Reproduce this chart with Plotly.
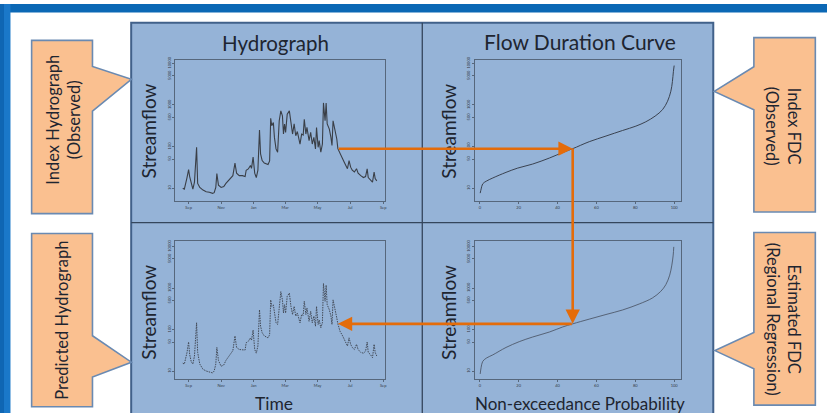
import math
import pandas as pd
import plotly.graph_objects as go

W, H = 829, 413

# ---------------- data ----------------
flow_dates = [
    "2009-08-21", "2009-08-24", "2009-08-29", "2009-09-01", "2009-09-03", "2009-09-06",
    "2009-09-09", "2009-09-12", "2009-09-16", "2009-09-18", "2009-09-22", "2009-09-28",
    "2009-10-04", "2009-10-10", "2009-10-16", "2009-10-19", "2009-10-22", "2009-10-24", "2009-10-27",
    "2009-11-01", "2009-11-06", "2009-11-10", "2009-11-16", "2009-11-23", "2009-11-27", "2009-11-30",
    "2009-12-05", "2009-12-11", "2009-12-16", "2009-12-18", "2009-12-22", "2009-12-26", "2009-12-28",
    "2009-12-31",
    "2010-01-03", "2010-01-06", "2010-01-09", "2010-01-12", "2010-01-14", "2010-01-17", "2010-01-21",
    "2010-01-28", "2010-01-31",
    "2010-02-02", "2010-02-04", "2010-02-07", "2010-02-09", "2010-02-12", "2010-02-15", "2010-02-18",
    "2010-02-21", "2010-02-24", "2010-02-26", "2010-02-28",
    "2010-03-02", "2010-03-05", "2010-03-09", "2010-03-12", "2010-03-15", "2010-03-18", "2010-03-21",
    "2010-03-24", "2010-03-27", "2010-03-29",
    "2010-04-01", "2010-04-04", "2010-04-06", "2010-04-09", "2010-04-11", "2010-04-15", "2010-04-18",
    "2010-04-21", "2010-04-24", "2010-04-27", "2010-04-29",
    "2010-05-02", "2010-05-04", "2010-05-07", "2010-05-10", "2010-05-12", "2010-05-15", "2010-05-17",
    "2010-05-19", "2010-05-23", "2010-05-26", "2010-05-28", "2010-05-30",
    "2010-06-02", "2010-06-05", "2010-06-06", "2010-06-08", "2010-06-12", "2010-06-17", "2010-06-20",
    "2010-06-23", "2010-06-26", "2010-06-29",
    "2010-07-02", "2010-07-05", "2010-07-09", "2010-07-13", "2010-07-16", "2010-07-21", "2010-07-26",
    "2010-07-30",
    "2010-08-02", "2010-08-04", "2010-08-08", "2010-08-12", "2010-08-15", "2010-08-17", "2010-08-20",
]

observed_flow = [
    10, 9.5, 18, 28, 19, 12.5, 9.5, 14, 96, 13, 10.4, 9,
    8.2, 8, 7.5, 7.8, 10.4, 22.4, 11.8,
    10.4, 11, 13, 16, 20, 40, 23,
    20, 20, 19, 27, 29, 35, 30, 56,
    23, 18, 27, 250, 67, 46, 40, 37, 45,
    480, 316, 380, 166, 88, 73, 417, 720, 550, 200, 347,
    219, 600, 720, 350, 200, 350, 182, 230, 166, 115,
    200, 190, 455, 200, 288, 139, 219, 115, 166, 88, 288,
    96, 139, 73, 115, 1120, 417, 1120, 350, 263, 166, 106, 417,
    288, 200, 152, 89, 67, 51, 42, 35, 29.4, 46,
    32, 27, 24.5, 29.4, 23, 20, 18, 19,
    29, 18, 16, 14, 24.5, 17, 15,
]

predicted_flow = [
    15.5, 14.7, 28, 50, 25, 16.7, 14.7, 23, 145, 28, 14.7, 11,
    10, 9.3, 9, 10, 14.7, 37, 18,
    13, 14, 18, 23, 31, 70, 37,
    33, 32, 32, 48, 52, 63, 55, 97,
    33, 27, 40, 300, 120, 84, 70, 63, 75,
    517, 360, 390, 230, 145, 133, 435, 815, 517, 250, 395,
    250, 630, 755, 360, 230, 360, 210, 250, 175, 145,
    230, 220, 480, 230, 330, 158, 275, 145, 210, 120, 360,
    133, 170, 110, 145, 1290, 480, 1170, 395, 300, 210, 133, 517,
    360, 250, 190, 137, 91, 70, 58, 48, 40, 63,
    44, 37, 33, 44, 33, 28, 27, 30,
    50, 28, 25, 21, 44, 28, 23,
]

fdc_obs_prob = [0.2, 0.7, 1.5, 3.3, 6.7, 13.5, 19.5, 27.2, 35.8, 42.6, 47.8, 56.3,
                64.9, 73.4, 80.3, 85.4, 90.2, 94.0, 96.6, 98.3, 99.1, 99.6, 100]
fdc_obs_flow = [7.6, 9.6, 12.7, 14.7, 17.6, 24, 30.4, 38, 53, 72, 89, 131,
                179, 243, 310, 394, 540, 770, 1230, 2140, 3660, 6300, 8850]

fdc_est_prob = [0.2, 0.7, 1.5, 3.3, 6.7, 13.5, 20.3, 27.2, 35.8, 42.6, 47.8, 56.3,
                64.9, 73.4, 82.0, 88.8, 93.1, 95.7, 97.7, 98.8, 99.5, 99.8]
fdc_est_flow = [8.5, 12.3, 17, 20.4, 24.5, 37, 51, 66, 87, 115, 137, 178,
                230, 295, 412, 575, 830, 1200, 2040, 3560, 6200, 9800]

# the day that is carried through both flow duration curves
link_date = "2010-06-08"
link_prob = 47.8

flow_ticks = [10, 50, 100, 500, 1000, 5000, 10000]
flow_tick_text = [str(v) for v in flow_ticks]
month_ticks = ["2009-09-01", "2009-11-01", "2010-01-01", "2010-03-01",
               "2010-05-01", "2010-07-01", "2010-09-01"]
month_text = ["Sep", "Nov", "Jan", "Mar", "May", "Jul", "Sep"]
prob_ticks = [0, 20, 40, 60, 80, 100]

# ---------------- styling ----------------
FONT = "Lato"
PANEL = "#95B3D7"
PANEL_EDGE = "#41618A"
DIVIDER = "#34465C"
CALLOUT = "#FAC090"
CALLOUT_EDGE = "#6A8AB2"
ORANGE = "#E46C0A"
BOX = "#56677C"

def px(x):
    return x / W

def py(y):
    return 1 - y / H

dom_x_hyd = [px(175.7), px(385.7)]
dom_x_fdc = [px(475.7), px(683.0)]
dom_y_top = [py(199), py(57)]
dom_y_bot = [py(379), py(239)]

rng_x_hyd = ["2009-08-07", "2010-09-04"]
rng_x_fdc = [-2.7, 103.7]
rng_y_top = [0.69, 4.07]
rng_y_bot = [0.80, 4.14]

fig = go.Figure()

fig.add_trace(go.Scatter(x=flow_dates, y=observed_flow, mode="lines",
                         line=dict(color="#3A3F47", width=1.1), xaxis="x", yaxis="y",
                         hoverinfo="skip"))
fig.add_trace(go.Scatter(x=fdc_obs_prob, y=fdc_obs_flow, mode="lines",
                         line=dict(color="#3A4250", width=1.0, shape="spline"),
                         xaxis="x2", yaxis="y2", hoverinfo="skip"))
fig.add_trace(go.Scatter(x=flow_dates, y=predicted_flow, mode="lines",
                         line=dict(color="#434B58", width=1.0, dash="1.5px,1px"),
                         xaxis="x3", yaxis="y3", hoverinfo="skip"))
fig.add_trace(go.Scatter(x=fdc_est_prob, y=fdc_est_flow, mode="lines",
                         line=dict(color="#4A5464", width=0.85, shape="spline"),
                         xaxis="x4", yaxis="y4", hoverinfo="skip"))

tick_font = dict(family=FONT, size=4, color="#333B47")

def xaxis_common(dom, rng, anchor, vals, text, is_date):
    d = dict(domain=dom, range=rng, anchor=anchor, showgrid=False, zeroline=False,
             showline=True, mirror=True, linecolor=BOX, linewidth=1,
             ticks="outside", ticklen=2, tickcolor=BOX, tickwidth=0.6,
             tickvals=vals, ticktext=text, tickfont=tick_font)
    if is_date:
        d["type"] = "date"
    return d

def yaxis_common(dom, rng, anchor):
    return dict(domain=dom, range=rng, anchor=anchor, type="log", showgrid=False,
                zeroline=False, showline=True, mirror=True, linecolor=BOX, linewidth=1,
                ticks="outside", ticklen=2, tickcolor=BOX, tickwidth=0.6,
                tickvals=flow_ticks, ticktext=flow_tick_text, tickangle=-90,
                tickfont=tick_font)

# ---------------- helpers to place connectors in figure coordinates ----------------
def frac(v, lo, hi):
    return (v - lo) / (hi - lo)

def on_domain(dom, f):
    return dom[0] + f * (dom[1] - dom[0])

def date_to_paper(d):
    t = pd.Timestamp(d).value
    lo, hi = (pd.Timestamp(r).value for r in rng_x_hyd)
    return on_domain(dom_x_hyd, frac(t, lo, hi))

def prob_to_paper(p):
    return on_domain(dom_x_fdc, frac(p, *rng_x_fdc))

def flow_to_paper(q, dom, rng):
    return on_domain(dom, frac(math.log10(q), *rng))

link_idx = flow_dates.index(link_date)
q_obs = observed_flow[link_idx]
q_pred = predicted_flow[link_idx]

x_hyd = date_to_paper(link_date)
x_fdc = prob_to_paper(link_prob)
y_obs = flow_to_paper(q_obs, dom_y_top, rng_y_top)
y_pred = flow_to_paper(q_pred, dom_y_bot, rng_y_bot)

shapes = []
# slide background and decorative frame
shapes.append(dict(type="rect", xref="paper", yref="paper", x0=0, x1=1, y0=py(0), y1=py(8.5),
                   fillcolor="#0B68B5", line=dict(width=0), layer="below"))
shapes.append(dict(type="rect", xref="paper", yref="paper", x0=0, x1=px(10.5), y0=0, y1=1,
                   fillcolor="#1A78C9", line=dict(width=0), layer="below"))
shapes.append(dict(type="rect", xref="paper", yref="paper", x0=0, x1=px(4), y0=0, y1=1,
                   fillcolor="#0F66B3", line=dict(width=0), layer="below"))

# the four-panel board
shapes.append(dict(type="rect", xref="paper", yref="paper", x0=px(131.5), x1=px(715), y0=py(416),
                   y1=py(19), fillcolor=PANEL, line=dict(color=PANEL_EDGE, width=2), layer="below"))
shapes.append(dict(type="line", xref="paper", yref="paper", x0=px(423.3), x1=px(423.3), y0=py(19),
                   y1=py(416), line=dict(color=DIVIDER, width=1.3), layer="below"))
shapes.append(dict(type="line", xref="paper", yref="paper", x0=px(131.5), x1=px(715), y0=py(220.7),
                   y1=py(220.7), line=dict(color=DIVIDER, width=1.3), layer="below"))

def callout(points):
    path = "M " + " L ".join(f"{px(x):.5f},{py(y):.5f}" for x, y in points) + " Z"
    return dict(type="path", xref="paper", yref="paper", path=path, fillcolor=CALLOUT,
                line=dict(color=CALLOUT_EDGE, width=1.6), layer="below")

shapes.append(callout([(31.7, 36.7), (92.7, 36.7), (92.7, 63), (131.7, 76), (92.7, 108.3),
                       (92.7, 211.7), (31.7, 211.7)]))
shapes.append(callout([(31.7, 231.7), (92.7, 231.7), (92.7, 335), (131.7, 361.7), (92.7, 376.7),
                       (92.7, 406.7), (31.7, 406.7)]))
shapes.append(callout([(755.7, 34), (817.3, 34), (817.3, 210), (755.7, 210), (755.7, 106.7),
                       (716, 88.3), (755.7, 63.3)]))
shapes.append(callout([(755.7, 230.7), (817.3, 230.7), (817.3, 405), (755.7, 405), (755.7, 368.3),
                       (716.7, 350), (755.7, 331.7)]))

annotations = []

def label(x, y, text, size, angle=0, color="#1E2530"):
    annotations.append(dict(xref="paper", yref="paper", x=px(x), y=py(y), text=text,
                            showarrow=False, textangle=angle, xanchor="center", yanchor="middle",
                            font=dict(family=FONT, size=size, color=color)))

label(276, 39, "Hydrograph", 20.5)
label(581, 38, "Flow Duration Curve", 21)
label(275, 403, "Time", 17.5)
label(581, 403, "Non-exceedance Probability", 17)
for (x, y) in [(149, 128), (450, 128), (149, 311), (450, 311)]:
    label(x, y, "Streamflow", 19, angle=-90)

label(64, 117, "Index Hydrograph<br>(Observed)", 16.5, angle=-90)
label(62, 319, "Predicted Hydrograph", 16.5, angle=-90)
label(785, 123, "Index FDC<br>(Observed)", 16.5, angle=90)
label(785, 318, "Estimated FDC<br>(Regional Regression)", 16.5, angle=90)

# orange connectors: hydrograph -> observed FDC -> estimated FDC -> predicted hydrograph
def arrow(x_head, y_head, x_tail, y_tail):
    annotations.append(dict(xref="paper", yref="paper", x=x_head, y=y_head,
                            axref="pixel", ayref="pixel",
                            ax=(x_tail - x_head) * W, ay=-(y_tail - y_head) * H,
                            text="", showarrow=True, arrowhead=2, arrowsize=1.1,
                            arrowwidth=2.6, arrowcolor=ORANGE, standoff=0, startstandoff=0))

arrow(x_fdc, y_obs, x_hyd, y_obs)
arrow(x_fdc, y_pred, x_fdc, y_obs)
arrow(x_hyd, y_pred, x_fdc, y_pred)

fig.update_layout(
    width=W, height=H,
    margin=dict(l=0, r=0, t=0, b=0),
    paper_bgcolor="white",
    plot_bgcolor="rgba(0,0,0,0)",
    showlegend=False,
    xaxis=xaxis_common(dom_x_hyd, rng_x_hyd, "y", month_ticks, month_text, True),
    yaxis=yaxis_common(dom_y_top, rng_y_top, "x"),
    xaxis2=xaxis_common(dom_x_fdc, rng_x_fdc, "y2", prob_ticks, [str(v) for v in prob_ticks], False),
    yaxis2=yaxis_common(dom_y_top, rng_y_top, "x2"),
    xaxis3=xaxis_common(dom_x_hyd, rng_x_hyd, "y3", month_ticks, month_text, True),
    yaxis3=yaxis_common(dom_y_bot, rng_y_bot, "x3"),
    xaxis4=xaxis_common(dom_x_fdc, rng_x_fdc, "y4", prob_ticks, [str(v) for v in prob_ticks], False),
    yaxis4=yaxis_common(dom_y_bot, rng_y_bot, "x4"),
    shapes=shapes,
    annotations=annotations,
)

fig.write_html("out.html")
